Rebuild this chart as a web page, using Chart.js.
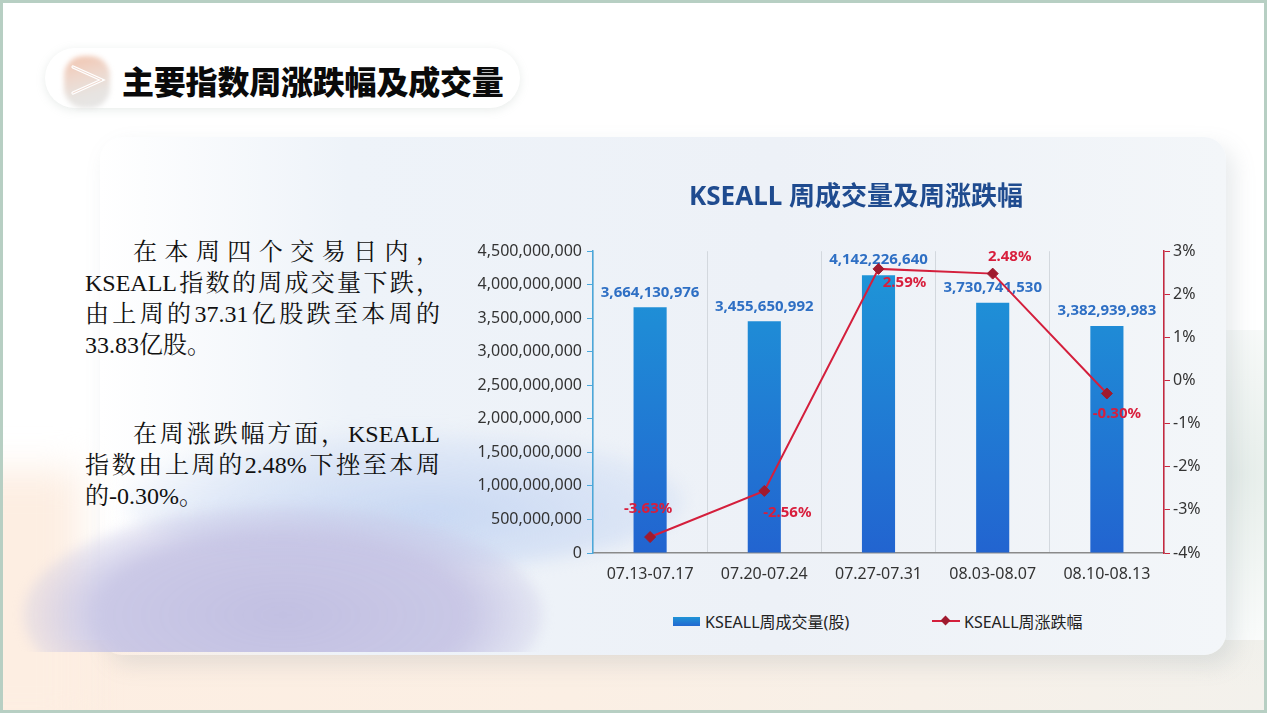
<!DOCTYPE html>
<html>
<head>
<meta charset="utf-8">
<script src="https://cdn.jsdelivr.net/npm/chart.js@4/dist/chart.umd.min.js"></script>
<style>
  html,body{margin:0;padding:0;}
  body{width:1267px;height:713px;position:relative;overflow:hidden;background:#ffffff;font-family:"Noto Sans","Noto Sans CJK SC",sans-serif;}
  .frame{position:absolute;left:0;top:0;width:1267px;height:713px;box-sizing:border-box;border:3px solid #b7cfc3;pointer-events:none;z-index:20;}
  .bottomband{position:absolute;left:0;top:640px;width:1267px;height:73px;background:linear-gradient(90deg,#fdeee2 0%,#fbefe4 45%,#f3f1ec 100%);}
  .leftpeach{position:absolute;left:-40px;top:470px;width:120px;height:260px;background:#fdeee2;filter:blur(18px);}
  .card{position:absolute;left:100px;top:137px;width:1126px;height:518px;border-radius:22px;
        background:linear-gradient(90deg,rgba(240,244,250,0) 0%,#eef3f9 22%,#edf1f7 60%,#f3f6f9 100%);
        box-shadow:8px 10px 22px rgba(120,140,150,0.18);}
  .clip{position:absolute;left:3px;top:300px;width:1223px;height:352px;overflow:hidden;}
  .lav{position:absolute;left:20px;top:205px;width:520px;height:220px;border-radius:50%;
       background:radial-gradient(ellipse at 50% 50%,rgba(194,192,226,1) 0%,rgba(198,196,228,0.92) 50%,rgba(210,210,232,0) 78%);filter:blur(6px);}
  .bluecurve{position:absolute;left:120px;top:130px;width:560px;height:140px;border-radius:50%;
       background:radial-gradient(ellipse at 55% 60%,rgba(198,214,242,0.95) 0%,rgba(206,220,244,0.55) 50%,rgba(220,230,246,0) 78%);filter:blur(8px);}
  .rightgreen{position:absolute;left:1000px;top:330px;width:300px;height:360px;background:radial-gradient(ellipse at 80% 40%,rgba(228,236,232,0.9) 0%,rgba(236,240,238,0) 70%);}
  .pill{position:absolute;left:45px;top:48px;width:475px;height:60px;border-radius:30px;background:#ffffff;box-shadow:0 2px 10px rgba(150,170,160,0.22);}
  .icon{position:absolute;left:64px;top:56px;width:46px;height:52px;border-radius:20px;
        background:linear-gradient(165deg,#f1c3ad 0%,#efd6ca 35%,#e7e4e1 70%,#e6e6e6 100%);filter:blur(2.5px);}
  .chev{position:absolute;left:62px;top:55px;width:48px;height:50px;}
  .ptitle{position:absolute;left:122px;top:58px;font-family:"Noto Sans CJK SC",sans-serif;font-weight:900;font-size:32px;line-height:44px;color:#0a0a0a;letter-spacing:-0.2px;}
  .text{position:absolute;left:85px;width:355px;font-family:"Liberation Serif","Noto Serif CJK SC","Noto Sans CJK SC",serif;font-size:24px;line-height:31px;color:#111;}
  .text div{white-space:nowrap;}
  .text .j{text-align:justify;text-align-last:justify;white-space:normal;}
  .text .ind{padding-left:48px;}
  #wrap{position:absolute;left:462px;top:180px;width:788px;height:414px;}
  .legend{position:absolute;top:611px;height:20px;display:flex;align-items:center;font-family:"Noto Sans","Noto Sans CJK SC",sans-serif;font-size:16px;color:#222;}
  .lg-bar{width:27px;height:9px;background:linear-gradient(180deg,#1f93d6,#2268d1);margin-right:5px;}
  .lg-line{position:relative;width:28px;height:12px;margin-right:4px;}
  .lg-line:before{content:"";position:absolute;left:0;right:0;top:5px;height:2px;background:#d41f3c;}
  .lg-line:after{content:"";position:absolute;left:10px;top:2px;width:7px;height:7px;background:#a01a2e;transform:rotate(45deg);}
</style>
</head>
<body>
<div class="bottomband"></div>
<div class="leftpeach"></div>
<div class="rightgreen"></div>
<div class="card"></div>
<div class="clip"><div class="bluecurve"></div><div class="lav"></div></div>

<div class="pill"></div>
<div class="icon"></div>
<svg class="chev" viewBox="0 0 48 50">
  <polyline points="11,12 40,25 11,38" fill="none" stroke="#ffffff" stroke-width="3.2" stroke-linejoin="miter" stroke-linecap="round"/>
  <polyline points="11,12 40,25 11,38" fill="none" stroke="#f0d9cf" stroke-width="1" stroke-linejoin="miter" stroke-linecap="round"/>
</svg>
<div class="ptitle">主要指数周涨跌幅及成交量</div>

<div class="text" style="top:237px;">
  <div class="j ind">在本周四个交易日内，</div>
  <div class="j">KSEALL指数的周成交量下跌，</div>
  <div class="j">由上周的37.31亿股跌至本周的</div>
  <div>33.83亿股。</div>
</div>
<div class="text" style="top:419px;">
  <div class="j ind">在周涨跌幅方面，KSEALL</div>
  <div class="j">指数由上周的2.48%下挫至本周</div>
  <div>的-0.30%。</div>
</div>

<div id="wrap"><canvas id="c"></canvas></div>

<div class="legend" style="left:673px;"><div class="lg-bar"></div><span>KSEALL周成交量(股)</span></div>
<div class="legend" style="left:932px;"><div class="lg-line"></div><span>KSEALL周涨跌幅</span></div>

<div class="frame"></div>

<script>
// ---- data ----
const categories = ["07.13-07.17","07.20-07.24","07.27-07.31","08.03-08.07","08.10-08.13"];
const volumeValues = [3664130976, 3455650992, 4142226640, 3730741530, 3382939983];
const changeValues = [-3.63, -2.56, 2.59, 2.48, -0.30];
const volumeTicks = [0,500000000,1000000000,1500000000,2000000000,2500000000,3000000000,3500000000,4000000000,4500000000];
const changeTicks = [-4,-3,-2,-1,0,1,2,3];
const chartTitle = "KSEALL 周成交量及周涨跌幅";
const seriesNames = ["KSEALL周成交量(股)","KSEALL周涨跌幅"];

// label placement offsets (style, px relative to the point)
const changeLabelOffsets = [[-2,-28],[23,22],[26,14],[17,-17],[10,20]];

const FONT = "'Noto Sans','Noto Sans CJK SC',sans-serif";
Chart.defaults.font.family = FONT;
Chart.defaults.color = '#333333';

const fmt = v => v.toLocaleString('en-US');

const labelPlugin = {
  id: 'valueLabels',
  afterDatasetDraw(chart, args) {
    const ctx = chart.ctx;
    if (args.index === 0) {
      const meta = chart.getDatasetMeta(0);
      ctx.save();
      ctx.font = "bold 15px " + FONT;
      ctx.fillStyle = '#2e6fc4';
      ctx.textAlign = 'center';
      ctx.textBaseline = 'middle';
      meta.data.forEach((el, i) => {
        ctx.fillText(fmt(volumeValues[i]), el.x, el.y - 15);
      });
      ctx.restore();
    }
  },
  afterDatasetsDraw(chart) {
    const ctx = chart.ctx;
    const meta = chart.getDatasetMeta(1);
    ctx.save();
    ctx.font = "bold 15px " + FONT;
    ctx.fillStyle = '#d81e3c';
    ctx.textAlign = 'center';
    ctx.textBaseline = 'middle';
    meta.data.forEach((el, i) => {
      const o = changeLabelOffsets[i];
      ctx.fillText(changeValues[i].toFixed(2) + '%', el.x + o[0], el.y + o[1]);
    });
    ctx.restore();
  }
};

function barGradient(context) {
  const chart = context.chart;
  const a = chart.chartArea;
  if (!a) return '#2180d4';
  const g = chart.ctx.createLinearGradient(0, a.top, 0, a.bottom);
  g.addColorStop(0, '#1e98d8');
  g.addColorStop(1, '#2264d0');
  return g;
}

new Chart(document.getElementById('c'), {
  data: {
    labels: categories,
    datasets: [
      {
        type: 'bar',
        label: seriesNames[0],
        data: volumeValues,
        yAxisID: 'y',
        backgroundColor: barGradient,
        barPercentage: 0.29,
        categoryPercentage: 1.0,
        order: 1
      },
      {
        type: 'line',
        label: seriesNames[1],
        data: changeValues,
        yAxisID: 'y1',
        borderColor: '#d41f3c',
        borderWidth: 2,
        pointStyle: 'rectRot',
        pointRadius: 5.5,
        pointHoverRadius: 5.5,
        pointBackgroundColor: '#a01a2e',
        pointBorderColor: '#a01a2e',
        pointBorderWidth: 1,
        tension: 0,
        order: 0
      }
    ]
  },
  options: {
    responsive: true,
    maintainAspectRatio: false,
    animation: false,
    layout: { padding: { left: 0, right: 0, top: 0, bottom: 0 } },
    plugins: {
      legend: { display: false },
      tooltip: { enabled: false },
      title: {
        display: true,
        text: chartTitle,
        color: '#1f4b8f',
        font: { size: 26, weight: 'bold', family: FONT },
        padding: { top: 2, bottom: 38 }
      }
    },
    scales: {
      x: {
        type: 'category',
        grid: { display: true, offset: true, color: '#d3d8de', lineWidth: 1, drawTicks: false },
        border: { display: true, color: '#8a8a8a', width: 1.5 },
        ticks: { color: '#333333', font: { size: 16 }, padding: 12, maxRotation: 0 },
        afterFit(s) { s.height = 41; }
      },
      y: {
        type: 'linear',
        position: 'left',
        min: 0,
        max: 4500000000,
        afterBuildTicks(s) { s.ticks = volumeTicks.map(v => ({ value: v })); },
        grid: { drawOnChartArea: false, color: '#4aa8dc', tickLength: 6, drawTicks: true },
        border: { display: true, color: '#4aa8dc', width: 1.5 },
        ticks: { color: '#333333', font: { size: 16 }, padding: 5, callback: v => fmt(v) },
        afterFit(s) { s.width = 131; }
      },
      y1: {
        type: 'linear',
        position: 'right',
        min: -4,
        max: 3,
        afterBuildTicks(s) { s.ticks = changeTicks.map(v => ({ value: v })); },
        grid: { drawOnChartArea: false, color: '#c8283e', tickLength: 6, drawTicks: true },
        border: { display: true, color: '#c8283e', width: 1.5 },
        ticks: { color: '#333333', font: { size: 16 }, padding: 3, callback: v => v + '%' },
        afterFit(s) { s.width = 86; }
      }
    }
  },
  plugins: [labelPlugin]
});
</script>
</body>
</html>
